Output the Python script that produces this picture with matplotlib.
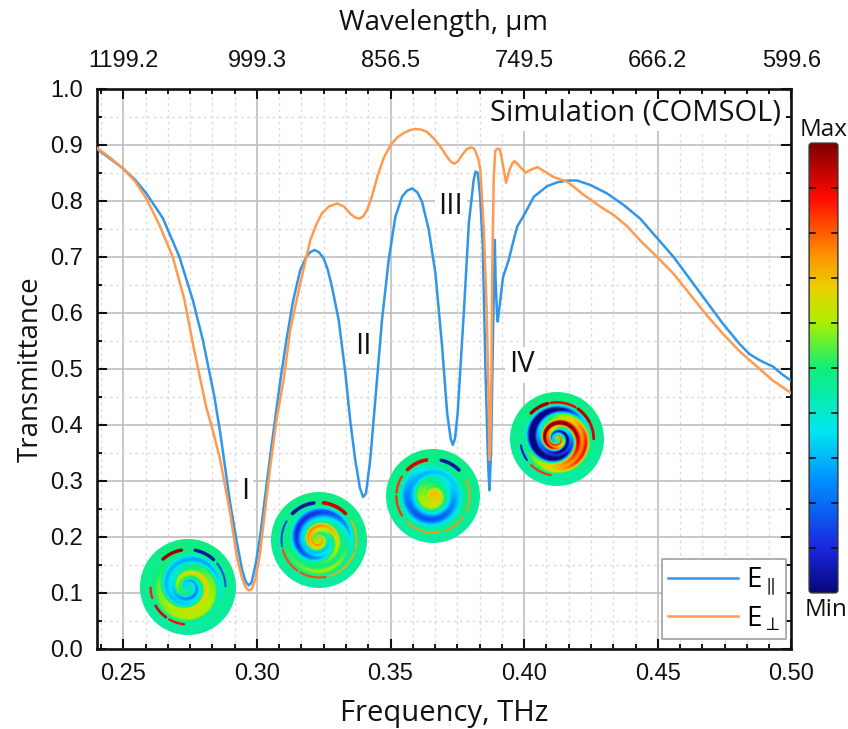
import numpy as np
import matplotlib
matplotlib.use("Agg")
import matplotlib.pyplot as plt
from matplotlib.colors import LinearSegmentedColormap
from matplotlib.patches import Circle, FancyBboxPatch
from matplotlib.ticker import MultipleLocator

plt.rcParams['font.family'] = ['Liberation Sans', 'DejaVu Sans']
plt.rcParams['mathtext.fontset'] = 'custom'
plt.rcParams['mathtext.rm'] = 'Open Sans'

# ---- data ----
par_x = [0.24, 0.2448, 0.2498, 0.2545, 0.2585, 0.2648, 0.271, 0.276, 0.2798, 0.2841, 0.2863, 0.29, 0.2925, 0.2945, 0.2958, 0.2969, 0.298, 0.2995, 0.3012,
         0.305, 0.3088, 0.311, 0.3135, 0.3162, 0.3185, 0.32, 0.3215, 0.3232, 0.325, 0.3265, 0.3281, 0.3306, 0.3331, 0.3349, 0.3368, 0.3385, 0.3397, 0.3408, 0.3424, 0.3443,
         0.3468, 0.3493, 0.3518, 0.3543, 0.3562, 0.3581, 0.36, 0.3618, 0.3643, 0.3668, 0.3693, 0.3712, 0.3725, 0.3733, 0.3741, 0.3751, 0.3774,
         0.3793, 0.3811, 0.3818, 0.3826, 0.3835, 0.3845, 0.3855, 0.3862, 0.3866, 0.387, 0.3876, 0.3883, 0.389, 0.3893, 0.3898,
         0.3901, 0.391, 0.3921, 0.3942, 0.3958, 0.3974, 0.3999, 0.4036, 0.4086, 0.4125, 0.4161, 0.4198, 0.4248, 0.431, 0.4373, 0.4434,
         0.4496, 0.4558, 0.462, 0.4682, 0.4744, 0.4806, 0.4843, 0.4885, 0.493, 0.4965, 0.50]
par_y = [0.893, 0.876, 0.858, 0.837, 0.814, 0.769, 0.70, 0.623, 0.551, 0.45, 0.385, 0.26, 0.19, 0.14, 0.12, 0.113, 0.118, 0.15, 0.2,
         0.345, 0.48, 0.55, 0.62, 0.676, 0.70, 0.708, 0.712, 0.708, 0.697, 0.677, 0.646, 0.587, 0.492, 0.408, 0.337, 0.288, 0.271, 0.277, 0.337, 0.444,
         0.587, 0.694, 0.771, 0.807, 0.818, 0.822, 0.815, 0.798, 0.748, 0.67, 0.539, 0.42, 0.375, 0.364, 0.375, 0.42, 0.599,
         0.76, 0.837, 0.852, 0.85, 0.81, 0.72, 0.5, 0.38, 0.32, 0.283, 0.35, 0.55, 0.73, 0.66, 0.60,
         0.584, 0.62, 0.664, 0.694, 0.725, 0.754, 0.774, 0.807, 0.826, 0.833, 0.836, 0.836, 0.828, 0.813, 0.792, 0.768,
         0.734, 0.70, 0.66, 0.62, 0.58, 0.544, 0.526, 0.514, 0.504, 0.49, 0.478]
perp_x = [0.24, 0.2448, 0.2498, 0.2545, 0.2585, 0.2635, 0.2685, 0.2729, 0.276, 0.281, 0.2835, 0.2863, 0.29, 0.2925, 0.2945, 0.2958, 0.2969,
          0.298, 0.2995, 0.3012, 0.305, 0.3075, 0.31, 0.3125, 0.3162, 0.32, 0.3222, 0.3243, 0.327, 0.33, 0.3325, 0.3349, 0.3368, 0.3384, 0.3398, 0.3412,
          0.343, 0.3452, 0.3475, 0.35, 0.3525, 0.355, 0.3572, 0.3592, 0.3615, 0.3636, 0.366, 0.3686, 0.3712, 0.3725, 0.3739, 0.3752, 0.3768, 0.3785, 0.3799, 0.381, 0.3818, 0.3828, 0.3836, 0.3849,
          0.386, 0.3868, 0.387, 0.3873, 0.3878, 0.388, 0.3886, 0.3892, 0.39, 0.3909, 0.3917, 0.3932, 0.3945, 0.3955, 0.3964,
          0.3986, 0.4005, 0.4024, 0.4049, 0.4074, 0.4111, 0.4161, 0.4224, 0.4286, 0.4336, 0.4386, 0.4434,
          0.4496, 0.4558, 0.462, 0.4682, 0.4744, 0.4806, 0.4868, 0.493, 0.50]
perp_y = [0.895, 0.878, 0.858, 0.834, 0.805, 0.757, 0.70, 0.623, 0.546, 0.432, 0.39, 0.337, 0.242, 0.164, 0.125, 0.11, 0.104,
          0.106, 0.125, 0.171, 0.325, 0.414, 0.48, 0.57, 0.652, 0.73, 0.757, 0.777, 0.79, 0.795, 0.79, 0.777, 0.77, 0.768, 0.772, 0.783,
          0.807, 0.845, 0.877, 0.899, 0.913, 0.921, 0.926, 0.928, 0.927, 0.923, 0.912, 0.897, 0.878, 0.87, 0.866, 0.87, 0.882, 0.892, 0.895, 0.894, 0.888, 0.875, 0.855, 0.748,
          0.60, 0.42, 0.337, 0.36, 0.5, 0.66, 0.84, 0.889, 0.893, 0.892, 0.873, 0.832, 0.855, 0.866, 0.871,
          0.86, 0.85, 0.855, 0.86, 0.853, 0.842, 0.834, 0.81, 0.789, 0.774, 0.754, 0.729,
          0.70, 0.67, 0.633, 0.596, 0.562, 0.531, 0.505, 0.479, 0.456]
freq_ticks = [0.25, 0.30, 0.35, 0.40, 0.45, 0.50]
freq_labels = ['0.25', '0.30', '0.35', '0.40', '0.45', '0.50']
wave_labels = ['1199.2', '999.3', '856.5', '749.5', '666.2', '599.6']
y_ticks = [0.0, 0.1, 0.2, 0.3, 0.4, 0.5, 0.6, 0.7, 0.8, 0.9, 1.0]
mode_labels = ['I', 'II', 'III', 'IV']
mode_x = [0.2957, 0.3399, 0.3726, 0.399]
mode_y = [0.28, 0.54, 0.79, 0.507]

# field-map insets: centre and radius in pixels, swirl strength, phase, core and ring levels
disc_px = [(188, 587, 48), (319, 540, 48), (433, 496, 47), (557, 439, 47)]
disc_amp = [0.17, 0.20, 0.07, 0.48]
disc_phase = [3.6, 3.4, 1.5, 2.6]
disc_core = [-0.08, 0.18, 0.22, 0.05]
disc_ring = [0.03, -0.13, -0.22, -0.05]
# outer arc segments: start angle, end angle, level, width in points
disc_arcs = [
    [(100, 132, 0.97, 2.4), (47, 79, 0.04, 2.4), (181, 197, 0.86, 1.7), (210, 234, 0.92, 1.9), (240, 264, 0.88, 1.7), (1, 39, 0.17, 1.5)],
    [(98, 135, 0.04, 2.6), (45, 83, 0.93, 2.6), (150, 190, 0.14, 1.4), (195, 235, 0.82, 1.5), (240, 280, 0.82, 1.5), (285, 340, 0.72, 1.3), (345, 30, 0.72, 1.2)],
    [(100, 134, 0.92, 2.6), (45, 77, 0.04, 2.6), (148, 175, 0.84, 1.6), (180, 212, 0.84, 1.6), (225, 280, 0.74, 1.3), (290, 325, 0.74, 1.3), (335, 25, 0.74, 1.2)],
    [(105, 135, 0.97, 2.4), (60, 100, 0.90, 1.8), (28, 55, 0.95, 2.2), (0, 25, 0.92, 2.0), (190, 215, 0.08, 1.6), (225, 260, 0.84, 1.5)],
]

field_cmap = LinearSegmentedColormap.from_list('field', [
    (0.00, '#07077a'), (0.10, '#1a28e0'), (0.25, '#0090ff'), (0.36, '#00e8f0'), (0.50, '#10ee78'),
    (0.60, '#a8f000'), (0.68, '#ecd000'), (0.76, '#ff8a00'), (0.88, '#ff0a00'), (1.00, '#800000')])

BW, BH = 848, 729
fig = plt.figure(figsize=(BW / 100, BH / 100), dpi=100)
L, R, T, B = 96.5, 791.5, 88.7, 648.7
ax = fig.add_axes([L / BW, 1 - B / BH, (R - L) / BW, (B - T) / BH])

BLUE, ORANGE = '#2f96ea', '#ff9a50'
ax.plot(par_x, par_y, color=BLUE, lw=1.8, label=r'E$_{\parallel}$', zorder=3, solid_joinstyle='round')
ax.plot(perp_x, perp_y, color=ORANGE, lw=1.8, label=r'E$_{\perp}$', zorder=3.1, solid_joinstyle='round')
ax.set_xlim(0.24, 0.50)
ax.set_ylim(0, 1)
ax.set_xticks(freq_ticks)
ax.set_xticklabels(freq_labels)
ax.set_yticks(y_ticks)
ax.xaxis.set_minor_locator(MultipleLocator(0.05 / 6))
ax.yaxis.set_minor_locator(MultipleLocator(0.05))
ax.grid(True, which='major', color='#b9b9b9', lw=1.1, zorder=1)
ax.grid(True, which='minor', color='#dcdcdc', lw=1.0, ls=(0, (2, 2.5)), zorder=1)
ax.set_axisbelow(True)
ax.tick_params(which='major', direction='in', length=7.5, width=1.5, labelsize=17, pad=10,
               left=True, right=True, bottom=True, top=False, colors='#111111')
ax.tick_params(which='minor', direction='in', length=3.5, width=1.3,
               left=True, right=True, bottom=True, top=False)
for s in ax.spines.values():
    s.set_linewidth(1.9)
    s.set_color('#111111')
ax.set_xlabel('Frequency, THz', fontsize=21, family=['Open Sans'], color='#111111')
ax.xaxis.set_label_coords(0.5, -(713 - B) / (B - T), transform=ax.transAxes)
ax.xaxis.label.set_va('center')
ax.set_ylabel('Transmittance', fontsize=20, family=['Open Sans'], color='#111111')
ax.yaxis.set_label_coords(-(97 - 31) / (R - L), (B - 369) / (B - T), transform=ax.transAxes)
ax.yaxis.label.set_va('center')

top = ax.twiny()
top.set_xlim(ax.get_xlim())
top.set_xticks(freq_ticks)
top.set_xticklabels(wave_labels)
top.xaxis.set_minor_locator(MultipleLocator(0.05 / 6))
top.tick_params(which='major', direction='in', length=7.5, width=1.5, labelsize=17, pad=12, colors='#111111')
top.tick_params(which='minor', direction='in', length=3.5, width=1.3)
for s in top.spines.values():
    s.set_visible(False)
top.set_xlabel('Wavelength, μm', fontsize=20, family=['Open Sans'], color='#111111')
top.xaxis.set_label_coords(0.5, 1 + (T - 23) / (B - T), transform=top.transAxes)
top.xaxis.label.set_va('center')

box = dict(facecolor='white', edgecolor='none', pad=2.5)
for lab, x, y in zip(mode_labels, mode_x, mode_y):
    ax.text(x, y, lab, fontsize=21, family=['Open Sans'], ha='center', va='center', color='#111111', bbox=box, zorder=2.5)
ax.text(0.496, 0.957, 'Simulation (COMSOL)', fontsize=21, family=['Open Sans'], ha='right', va='center',
        color='#111111', bbox=box, zorder=2.5)

leg = ax.legend(loc='lower right', bbox_to_anchor=((786 - L) / (R - L), (B - 639) / (B - T)), borderaxespad=0,
                fancybox=False, framealpha=1, edgecolor='#999999', handlelength=2.5,
                handletextpad=0.3, labelspacing=0.22, borderpad=0.22, prop={'family': 'Open Sans', 'size': 20})
leg.get_frame().set_linewidth(1.1)
leg.set_zorder(6)
for h in leg.get_lines():
    h.set_linewidth(1.8)


def draw_disc(cx, cy, rad, amp, phase, core, ring, arcs):
    a = fig.add_axes([(cx - rad) / BW, 1 - (cy + rad) / BH, 2 * rad / BW, 2 * rad / BH], zorder=5)
    a.set_xlim(-1, 1)
    a.set_ylim(-1, 1)
    a.axis('off')
    n = 220
    xx, yy = np.meshgrid(np.linspace(-1, 1, n), np.linspace(-1, 1, n))
    r = np.hypot(xx, yy)
    th = np.arctan2(yy, xx)
    env = np.clip((0.74 - r) / 0.10, 0, 1)
    arm = np.cos(th + 5.2 * np.log(r + 0.10) + phase)
    fine = np.cos(2 * th + 18 * np.log(r + 0.10) + 2 * phase)
    f = 0.47 + 0.02 * yy
    f = f + env * (amp * arm * np.clip(r / 0.22, 0.15, 1) + 0.3 * amp * fine
                   + core * np.exp(-(r / 0.26) ** 2) + ring * np.exp(-((r - 0.5) / 0.14) ** 2))
    im = a.imshow(f, extent=(-1, 1, -1, 1), origin='lower', cmap=field_cmap, vmin=0, vmax=1, interpolation='bilinear')
    clip = Circle((0, 0), 1, transform=a.transData)
    im.set_clip_path(clip)
    for t1, t2, level, w in arcs:
        if t2 < t1:
            t2 += 360
        t = np.radians(np.linspace(t1, t2, 30))
        a.plot(0.78 * np.cos(t), 0.78 * np.sin(t), color=field_cmap(level), lw=w, solid_capstyle='round')


for (cx, cy, rad), amp, ph, co, ri, arcs in zip(disc_px, disc_amp, disc_phase, disc_core, disc_ring, disc_arcs):
    draw_disc(cx, cy, rad, amp, ph, co, ri, arcs)

# colour scale
X0, X1, Y0, Y1 = 809, 838, 143, 593
cb = fig.add_axes([X0 / BW, 1 - Y1 / BH, (X1 - X0) / BW, (Y1 - Y0) / BH])
cb.set_xlim(0, 1)
cb.set_ylim(0, 1)
cb.axis('off')
grad = np.linspace(0, 1, 256).reshape(-1, 1)
im = cb.imshow(grad, extent=(0, 1, 0, 1), origin='lower', aspect='auto', cmap=field_cmap, vmin=0, vmax=1)
pad = 3
frame = FancyBboxPatch((pad / (X1 - X0), pad / (Y1 - Y0)), 1 - 2 * pad / (X1 - X0), 1 - 2 * pad / (Y1 - Y0),
                       boxstyle='round,pad=0.1,rounding_size=0.1', mutation_aspect=(X1 - X0) / (Y1 - Y0),
                       transform=cb.transData, facecolor='none', edgecolor='#333333', lw=1.0, clip_on=False)
cb.add_patch(frame)
im.set_clip_path(frame)
for i in range(1, 10):
    cb.plot([0, 0.19], [i / 10, i / 10], color='#111111', lw=1.2)
    cb.plot([0.81, 1], [i / 10, i / 10], color='#111111', lw=1.2)
fig.text(824 / BW, 1 - 130 / BH, 'Max', fontsize=17.5, family=['Open Sans'], ha='center', va='center', color='#111111')
fig.text(826 / BW, 1 - 610 / BH, 'Min', fontsize=17.5, family=['Open Sans'], ha='center', va='center', color='#111111')

fig.savefig('out.png', dpi=100)
